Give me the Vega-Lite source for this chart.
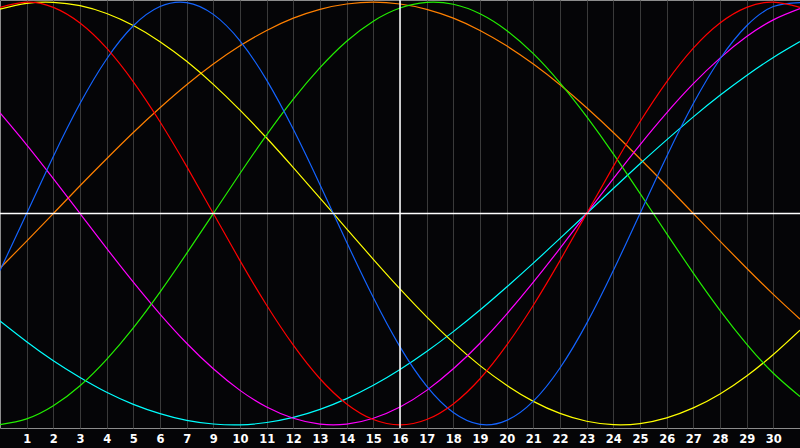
{
  "$schema": "https://vega.github.io/schema/vega-lite/v6.json",
  "width": 800,
  "height": 428,
  "autosize": "none",
  "padding": {"left": 0, "top": 0, "right": 0, "bottom": 20},
  "background": "#050507",
  "config": {
    "view": {"stroke": "#8c8c8c", "strokeWidth": 1, "fill": "#050507"}
  },
  "datasets": {
    "cycles": [
      {"d":0,"physical":-0.27,"emotional":0.975,"intellectual":-0.999,"intuitive":0.476,"aesthetic":0.967,"awareness":-0.259,"spiritual":-0.509},
      {"d":1,"physical":0,"emotional":1,"intellectual":-0.972,"intuitive":0.325,"aesthetic":0.994,"awareness":-0.131,"spiritual":-0.607},
      {"d":2,"physical":0.27,"emotional":0.975,"intellectual":-0.91,"intuitive":0.165,"aesthetic":0.999,"awareness":0,"spiritual":-0.697},
      {"d":3,"physical":0.52,"emotional":0.901,"intellectual":-0.815,"intuitive":0,"aesthetic":0.983,"awareness":0.131,"spiritual":-0.776},
      {"d":4,"physical":0.731,"emotional":0.782,"intellectual":-0.69,"intuitive":-0.165,"aesthetic":0.946,"awareness":0.259,"spiritual":-0.846},
      {"d":5,"physical":0.888,"emotional":0.623,"intellectual":-0.541,"intuitive":-0.325,"aesthetic":0.889,"awareness":0.383,"spiritual":-0.903},
      {"d":6,"physical":0.979,"emotional":0.434,"intellectual":-0.372,"intuitive":-0.476,"aesthetic":0.813,"awareness":0.5,"spiritual":-0.947},
      {"d":7,"physical":0.998,"emotional":0.223,"intellectual":-0.189,"intuitive":-0.614,"aesthetic":0.72,"awareness":0.609,"spiritual":-0.979},
      {"d":8,"physical":0.942,"emotional":0,"intellectual":0,"intuitive":-0.735,"aesthetic":0.611,"awareness":0.707,"spiritual":-0.996},
      {"d":9,"physical":0.817,"emotional":-0.223,"intellectual":0.189,"intuitive":-0.837,"aesthetic":0.489,"awareness":0.793,"spiritual":-1},
      {"d":10,"physical":0.631,"emotional":-0.434,"intellectual":0.372,"intuitive":-0.916,"aesthetic":0.357,"awareness":0.866,"spiritual":-0.989},
      {"d":11,"physical":0.398,"emotional":-0.623,"intellectual":0.541,"intuitive":-0.969,"aesthetic":0.217,"awareness":0.924,"spiritual":-0.965},
      {"d":12,"physical":0.136,"emotional":-0.782,"intellectual":0.69,"intuitive":-0.997,"aesthetic":0.073,"awareness":0.966,"spiritual":-0.927},
      {"d":13,"physical":-0.136,"emotional":-0.901,"intellectual":0.815,"intuitive":-0.997,"aesthetic":-0.073,"awareness":0.991,"spiritual":-0.876},
      {"d":14,"physical":-0.398,"emotional":-0.975,"intellectual":0.91,"intuitive":-0.969,"aesthetic":-0.217,"awareness":1,"spiritual":-0.813},
      {"d":15,"physical":-0.631,"emotional":-1,"intellectual":0.972,"intuitive":-0.916,"aesthetic":-0.357,"awareness":0.991,"spiritual":-0.738},
      {"d":16,"physical":-0.817,"emotional":-0.975,"intellectual":0.999,"intuitive":-0.837,"aesthetic":-0.489,"awareness":0.966,"spiritual":-0.653},
      {"d":17,"physical":-0.942,"emotional":-0.901,"intellectual":0.99,"intuitive":-0.735,"aesthetic":-0.611,"awareness":0.924,"spiritual":-0.559},
      {"d":18,"physical":-0.998,"emotional":-0.782,"intellectual":0.945,"intuitive":-0.614,"aesthetic":-0.72,"awareness":0.866,"spiritual":-0.457},
      {"d":19,"physical":-0.979,"emotional":-0.623,"intellectual":0.866,"intuitive":-0.476,"aesthetic":-0.813,"awareness":0.793,"spiritual":-0.348},
      {"d":20,"physical":-0.888,"emotional":-0.434,"intellectual":0.756,"intuitive":-0.325,"aesthetic":-0.889,"awareness":0.707,"spiritual":-0.235},
      {"d":21,"physical":-0.731,"emotional":-0.223,"intellectual":0.618,"intuitive":-0.165,"aesthetic":-0.946,"awareness":0.609,"spiritual":-0.118},
      {"d":22,"physical":-0.52,"emotional":0,"intellectual":0.458,"intuitive":0,"aesthetic":-0.983,"awareness":0.5,"spiritual":0},
      {"d":23,"physical":-0.27,"emotional":0.223,"intellectual":0.282,"intuitive":0.165,"aesthetic":-0.999,"awareness":0.383,"spiritual":0.118},
      {"d":24,"physical":0,"emotional":0.434,"intellectual":0.095,"intuitive":0.325,"aesthetic":-0.994,"awareness":0.259,"spiritual":0.235},
      {"d":25,"physical":0.27,"emotional":0.623,"intellectual":-0.095,"intuitive":0.476,"aesthetic":-0.967,"awareness":0.131,"spiritual":0.348},
      {"d":26,"physical":0.52,"emotional":0.782,"intellectual":-0.282,"intuitive":0.614,"aesthetic":-0.92,"awareness":0,"spiritual":0.457},
      {"d":27,"physical":0.731,"emotional":0.901,"intellectual":-0.458,"intuitive":0.735,"aesthetic":-0.854,"awareness":-0.131,"spiritual":0.559},
      {"d":28,"physical":0.888,"emotional":0.975,"intellectual":-0.618,"intuitive":0.837,"aesthetic":-0.769,"awareness":-0.259,"spiritual":0.653},
      {"d":29,"physical":0.979,"emotional":1,"intellectual":-0.756,"intuitive":0.916,"aesthetic":-0.667,"awareness":-0.383,"spiritual":0.738},
      {"d":30,"physical":0.998,"emotional":0.975,"intellectual":-0.866,"intuitive":0.969,"aesthetic":-0.552,"awareness":-0.5,"spiritual":0.813}
    ],
    "zero": [{"v": 0}],
    "today": [{"d": 15}]
  },
  "layer": [
    {
      "data": {"name": "cycles"},
      "transform": [
        {"fold": ["awareness","spiritual","aesthetic","intuitive","intellectual","physical","emotional"], "as": ["cycle","v"]}
      ],
      "mark": {"type": "line", "strokeWidth": 1.2, "interpolate": "natural"},
      "encoding": {
        "x": {
          "field": "d", "type": "quantitative",
          "scale": {"domain": [0, 30], "nice": false, "zero": false},
          "axis": {
            "title": null,
            "values": [1,2,3,4,5,6,7,8,9,10,11,12,13,14,15,16,17,18,19,20,21,22,23,24,25,26,27,28,29],
            "format": "d",
            "labelExpr": "datum.value < 8 ? '' + datum.value : '' + (datum.value + 1)",
            "grid": true, "gridColor": "#3a3a3a", "gridWidth": 1,
            "domain": false, "ticks": false,
            "labelColor": "#ffffff", "labelFont": "DejaVu Sans", "labelFontSize": 11.5,
            "labelFontWeight": "bold", "labelPadding": 5, "labelFlush": false,
            "labelOverlap": false, "labelBound": false, "tickCount": 30
          }
        },
        "y": {
          "field": "v", "type": "quantitative",
          "scale": {"domain": [-1.015, 1.01], "nice": false, "zero": false},
          "axis": null
        },
        "color": {
          "field": "cycle", "type": "nominal",
          "scale": {
            "domain": ["physical","emotional","intellectual","intuitive","aesthetic","awareness","spiritual"],
            "range": ["#1464ff","#ff0000","#22ee00","#ff00ff","#ffff00","#ff8000","#00ffff"]
          },
          "legend": null
        },
        "detail": {"field": "cycle"}
      }
    },
    {
      "data": {"name": "zero"},
      "mark": {"type": "rule", "color": "#ffffff", "strokeWidth": 1.5},
      "encoding": {"y": {"field": "v", "type": "quantitative"}}
    },
    {
      "data": {"name": "today"},
      "mark": {"type": "rule", "color": "#ffffff", "strokeWidth": 1.5},
      "encoding": {"x": {"field": "d", "type": "quantitative"}}
    }
  ]
}
